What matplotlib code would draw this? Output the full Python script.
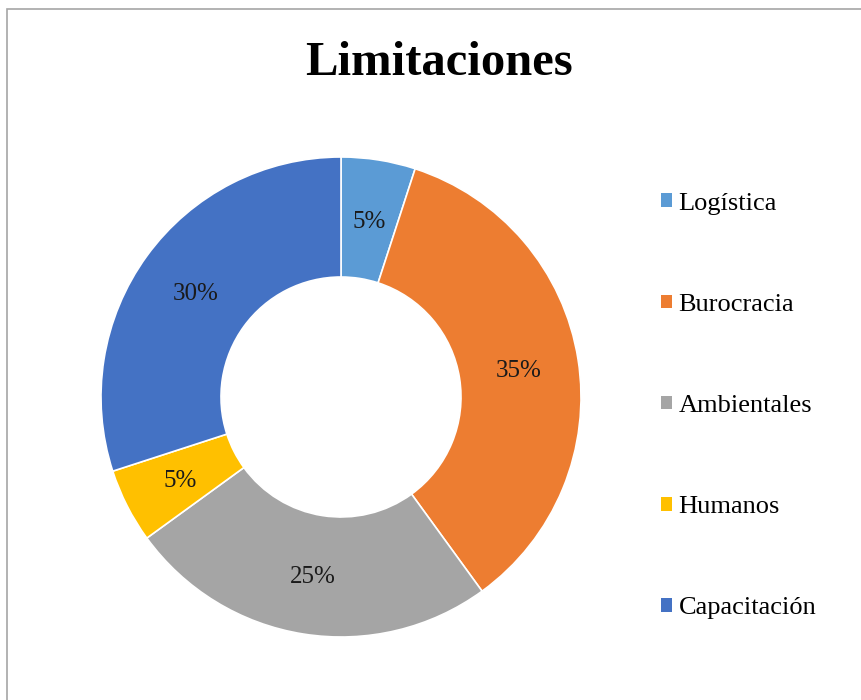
import matplotlib.pyplot as plt
from matplotlib.patches import Patch, Rectangle

categories = ["Logística", "Burocracia", "Ambientales", "Humanos", "Capacitación"]
shares = [5, 35, 25, 5, 30]
colors = ["#5B9BD5", "#ED7D31", "#A5A5A5", "#FFC000", "#4472C4"]

plt.rcParams['font.family'] = ['Liberation Serif', 'DejaVu Serif']

W, H = 862, 700
fig = plt.figure(figsize=(W / 100, H / 100), dpi=100)

# chart border (runs off the right and bottom edges)
fig.patches.append(Rectangle((7 / W, -0.1), 1.2, 1.1 - 9.5 / H,
                             transform=fig.transFigure, fill=False,
                             edgecolor="#a6a6a6", linewidth=1.2))

ax = fig.add_axes([101 / W, (H - 397 - 240) / H, 480 / W, 480 / H])
wedges, texts, autotexts = ax.pie(
    shares, colors=colors, startangle=90, counterclock=False,
    autopct="%d%%", pctdistance=0.75,
    wedgeprops=dict(width=0.5, edgecolor="white", linewidth=1.2),
    textprops=dict(fontsize=18, color="#1a1a1a"))
for t in autotexts:
    t.set_va("center_baseline")
ax.set_xlim(-1, 1)
ax.set_ylim(-1, 1)
ax.set_aspect("equal")
ax.axis("off")

fig.text(439 / W, 1 - 75 / H, "Limitaciones", ha="center", va="baseline",
         fontsize=35, fontweight="bold", color="black")

handles = [Patch(facecolor=c, edgecolor="none") for c in colors]
fig.legend(handles, categories, loc="center left",
           bbox_to_anchor=(661 / W, 1 - 406 / H), frameon=False,
           fontsize=19, handlelength=0.42, handleheight=0.42,
           handletextpad=0.25, labelspacing=3.0, borderpad=0,
           borderaxespad=0)

fig.savefig("out.png", dpi=100, facecolor="white")
